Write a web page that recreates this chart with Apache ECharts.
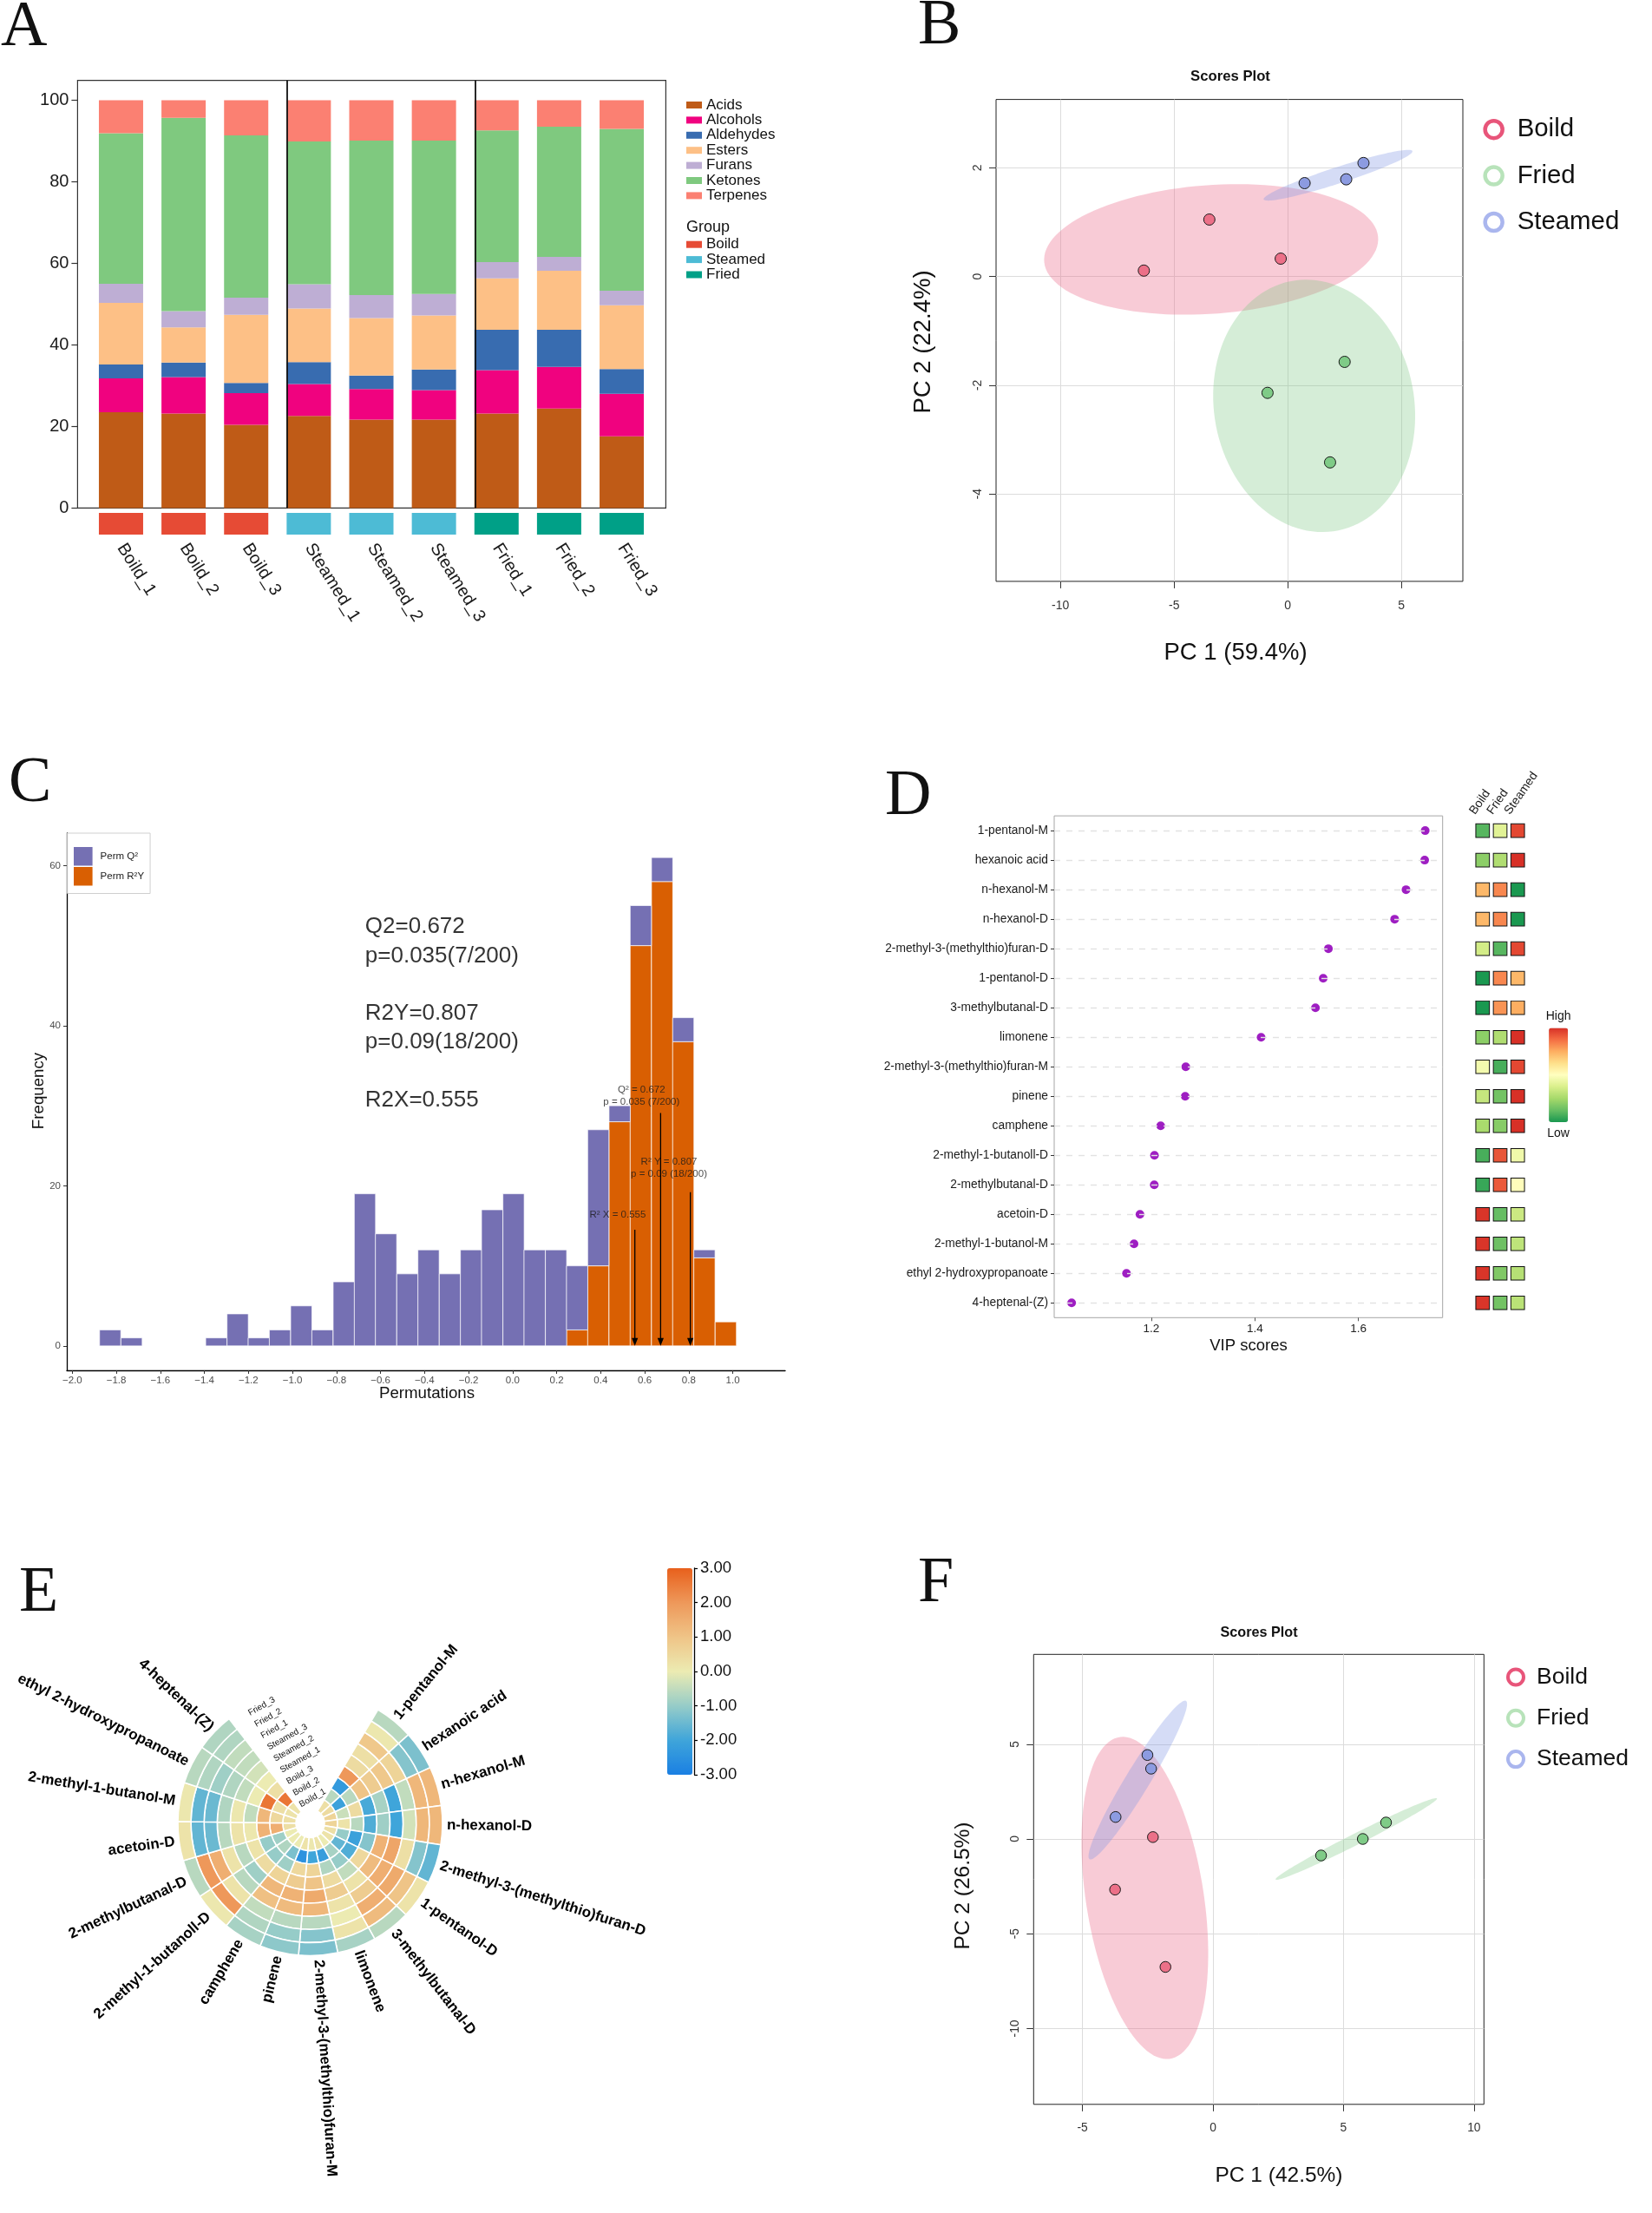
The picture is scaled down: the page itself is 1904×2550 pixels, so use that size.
<!DOCTYPE html>
<html>
<head>
<meta charset="utf-8">
<title>Figure</title>
<script src="https://cdn.jsdelivr.net/npm/echarts/dist/echarts.min.js"></script>
<style>
html,body{margin:0;padding:0;background:#ffffff;}
#chart{width:1904px;height:2550px;}
</style>
</head>
<body>
<div id="chart"></div>
<script>
// ================= DATA =================
// ---- Panel A : relative content (%) of volatile classes ----
const sampleNames = ['Boild_1','Boild_2','Boild_3','Steamed_1','Steamed_2','Steamed_3','Fried_1','Fried_2','Fried_3'];
const sampleGroups = ['Boild','Boild','Boild','Steamed','Steamed','Steamed','Fried','Fried','Fried'];
const groupNames = ['Boild','Steamed','Fried'];
const classNames = ['Acids','Alcohols','Aldehydes','Esters','Furans','Ketones','Terpenes'];
const acids     = [23.5, 23.2, 20.4, 22.6, 21.7, 21.7, 23.2, 24.4, 17.6];
const alcohols  = [ 8.3,  8.9,  7.8,  7.8,  7.5,  7.2, 10.6, 10.2, 10.4];
const aldehydes = [ 3.4,  3.6,  2.5,  5.4,  3.3,  5.1,  9.9,  9.1,  6.1];
const esters    = [15.1,  8.6, 16.7, 13.1, 14.1, 13.2, 12.6, 14.5, 15.6];
const furans    = [ 4.7,  4.0,  4.2,  6.0,  5.6,  5.3,  4.0,  3.4,  3.6];
const ketones   = [36.9, 47.4, 39.8, 35.0, 37.9, 37.6, 32.3, 31.9, 39.7];
const terpenes  = [ 8.1,  4.3,  8.6, 10.1,  9.9,  9.9,  7.4,  6.5,  7.0];
const yTicksA = [0, 20, 40, 60, 80, 100];
const groupBreaksA = [3.645, 6.655];

// ---- Panel B : PCA scores ----
const pcaBBoild   = [[-6.33, 0.11], [-3.45, 1.05], [-0.31, 0.33]];
const pcaBFried   = [[-0.89, -2.14], [2.50, -1.57], [1.86, -3.42]];
const pcaBSteamed = [[0.74, 1.72], [2.57, 1.79], [3.33, 2.09]];
// ellipse: centre x, centre y, semi-axis 1 (dx, dy), semi-axis 2 (dx, dy)
const ellBBoild   = [-3.37, 0.50, 7.34, 0.238, 0.304, -1.178];
const ellBFried   = [1.16, -2.38, -0.145, 2.32, 4.44, -0.11];
const ellBSteamed = [2.21, 1.865, 3.27, 0.446, 0.149, -0.137];
const xTicksB = [-10, -5, 0, 5];
const yTicksB = [-4, -2, 0, 2];

// ---- Panel C : permutation histogram ----
const binCentersC = [-1.828,-1.731,-1.635,-1.539,-1.442,-1.346,-1.249,-1.153,-1.057,-0.960,
                     -0.864,-0.767,-0.671,-0.575,-0.478,-0.382,-0.285,-0.189,-0.093,0.004,
                      0.100, 0.197, 0.293, 0.389, 0.486, 0.582, 0.679, 0.775, 0.871,0.968];
const binWidthC = 0.0964;
const permQ2  = [2,1,0,0,0,1,4,1,2,5,2,8,19,14,9,12,9,12,17,19,12,12,8,17,2,5,3,3,1,0];
const permR2Y = [0,0,0,0,0,0,0,0,0,0,0,0,0,0,0,0,0,0,0,0,0,0,2,10,28,50,58,38,11,3];
const xTicksC = [-2.0,-1.8,-1.6,-1.4,-1.2,-1.0,-0.8,-0.6,-0.4,-0.2,0.0,0.2,0.4,0.6,0.8,1.0];
const yTicksC = [0, 20, 40, 60];
const arrowXC = [0.672, 0.807, 0.555];
const arrowTopC = [29.1, 19.2, 14.5];
const annotPosC = [[0.585, 31.2], [0.71, 22.2], [0.477, 16.4]];
const annotTextC = ['Q\u00B2 = 0.672\np = 0.035 (7/200)', 'R\u00B2 Y = 0.807\np = 0.09 (18/200)', 'R\u00B2 X = 0.555'];
const bigTextPosC = [-0.67, 41.5];
const bigTextC = 'Q2=0.672\np=0.035(7/200)\n\nR2Y=0.807\np=0.09(18/200)\n\nR2X=0.555';

// ---- Panel D : VIP scores + group heatmap ----
const vipNames = ['1-pentanol-M','hexanoic acid','n-hexanol-M','n-hexanol-D','2-methyl-3-(methylthio)furan-D',
  '1-pentanol-D','3-methylbutanal-D','limonene','2-methyl-3-(methylthio)furan-M','pinene','camphene',
  '2-methyl-1-butanoll-D','2-methylbutanal-D','acetoin-D','2-methyl-1-butanol-M','ethyl 2-hydroxypropanoate','4-heptenal-(Z)'];
const vipScores = [1.729, 1.728, 1.692, 1.670, 1.542, 1.532, 1.517, 1.412, 1.2665, 1.2654, 1.218, 1.206, 1.2056, 1.178, 1.1665, 1.152, 1.046];
const xTicksD = [1.2, 1.4, 1.6];
const heatGroups = ['Boild', 'Fried', 'Steamed'];
const heatBoild   = [-0.8,-0.6, 0.45, 0.45,-0.28,-1.0,-1.0,-0.6,-0.08,-0.35,-0.48,-0.85,-0.9, 0.98, 0.98, 0.98, 0.98];
const heatFried   = [-0.2,-0.45,0.65, 0.65,-0.8, 0.65, 0.6,-0.45,-0.85,-0.7,-0.62, 0.85, 0.83,-0.75,-0.72,-0.65,-0.7];
const heatSteamed = [ 0.9, 1.0,-1.0,-1.0, 0.9, 0.45, 0.5, 1.0, 0.9, 1.0, 1.0,-0.1, 0.02,-0.32,-0.38,-0.42,-0.4];

// ---- Panel E : circular heatmap (rows = compounds, columns = samples inner->outer) ----
const circNames = vipNames;
const circGapSlots = ['gap1', 'gap2', 'gap3', 'gap4'];
const circZ = [
  [ 0.3,-0.6,-2.3, 2.0, 0.4, 0.3, 0.9, 0.1,-0.6],
  [ 0.4,-2.1,-0.6, 1.0, 0.8, 0.9, 0.6,-1.2,-1.3],
  [ 0.6,-0.4, 0.4,-1.9,-0.8,-2.0,-0.5, 1.3, 1.3],
  [ 0.6, 0.2,-0.6,-1.8,-0.9,-2.0,-0.3, 1.3, 1.3],
  [ 0.3,-1.0,-2.1,-1.2, 1.4, 1.7, 0.3,-1.2,-1.6],
  [ 0.2,-1.6,-1.8, 0.5, 1.2, 1.5, 1.6, 1.0, 0.2],
  [ 0.0,-0.8,-1.0,-0.5, 0.2, 0.8, 1.5, 1.2,-0.6],
  [ 0.2,-2.2,-0.7, 0.4, 0.8, 0.2, 0.0, 0.2,-0.8],
  [ 0.1,-2.0, 0.6, 1.0, 1.6, 1.3,-0.6,-1.2,-1.3],
  [ 0.2,-2.5, 0.5, 0.8, 1.4, 1.2,-0.6,-1.0,-1.1],
  [ 0.0,-1.3,-0.9, 0.6, 1.3, 1.1,-0.5,-0.7,-0.8],
  [ 0.0,-0.7,-1.0, 0.4,-0.9,-0.6, 0.2, 2.0, 0.1],
  [ 0.0,-0.9,-1.0, 0.2,-0.6, 0.2, 1.5, 2.0,-0.6],
  [ 0.3, 1.5, 1.4, 0.1, 0.2,-0.6,-1.5,-1.6, 0.2],
  [ 0.3, 0.5, 1.3,-0.5, 0.1,-0.7,-1.5,-1.6, 0.1],
  [ 0.2, 0.3, 2.6, 0.0,-0.5,-0.7,-0.9,-0.7,-0.6],
  [ 0.2, 2.6, 0.3, 0.0,-0.3,-0.5,-0.5,-0.7,-0.7]
];

// ---- Panel F : PCA scores ----
const pcaFBoild   = [[-2.30, 0.10], [-3.75, -2.67], [-1.82, -6.75]];
const pcaFFried   = [[4.14, -0.87], [5.74, 0.0], [6.63, 0.87]];
const pcaFSteamed = [[-2.51, 4.43], [-2.37, 3.71], [-3.73, 1.16]];
const ellFBoild   = [-2.61, -3.11, -0.937, 8.49, 2.24, 0.365];
const ellFFried   = [5.49, 0.0, 3.09, 2.14, 0.118, -0.253];
const ellFSteamed = [-2.88, 3.11, 1.84, 4.18, 0.421, -0.273];
const xTicksF = [-5, 0, 5, 10];
const yTicksF = [-10, -5, 0, 5];

// ================= STYLE =================
const FONT = '"Liberation Sans", Arial, Helvetica, sans-serif';
const SERIF = '"Liberation Serif", "Times New Roman", serif';
const classColors = ['#BF5B17', '#F0027F', '#386CB0', '#FDC086', '#BEAED4', '#7FC97F', '#FB8072'];
const groupColors = {Boild: '#E64B35', Steamed: '#4DBBD5', Fried: '#00A087'};
const pcaPoint = {Boild: '#EC7088', Fried: '#7FCB87', Steamed: '#8C9BE1'};
const pcaRing  = {Boild: '#E8557A', Fried: '#B8E3BA', Steamed: '#AAB6EE'};
const pcaFill  = {Boild: 'rgba(236,112,142,0.36)', Fried: 'rgba(128,200,134,0.33)', Steamed: 'rgba(128,148,228,0.33)'};

const chart = echarts.init(document.getElementById('chart'), null, {renderer: 'canvas', width: 1904, height: 2550});

const grids = [], xAxes = [], yAxes = [], series = [], legends = [], gEls = [];

function gtext(text, x, y, size, o) {
  o = o || {};
  const align = o.align || 'center', valign = o.valign || 'middle';
  return {type: 'text', x: x, y: y, rotation: o.rotation || 0, silent: true, z: 100,
    style: {text: text, fill: o.color || '#111', font: (o.weight || 'normal') + ' ' + size + 'px ' + (o.family || FONT),
      textAlign: align, textVerticalAlign: valign, align: align, verticalAlign: valign}};
}

// ================= PANEL A =================
grids.push({left: 103.4, top: 92.7, width: 649.2, height: 492.7});
xAxes.push({gridIndex: 0, type: 'category', data: sampleNames, show: false});
yAxes.push({gridIndex: 0, type: 'value', min: 0, max: 104.85, show: false});
const classValues = [acids, alcohols, aldehydes, esters, furans, ketones, terpenes];
classNames.forEach(function (n, ci) {
  series.push({name: n, type: 'bar', xAxisIndex: 0, yAxisIndex: 0, stack: 'classes', barWidth: 51,
    itemStyle: {color: classColors[ci]}, data: classValues[ci]});
});
grids.push({left: 103.4, top: 591, width: 649.2, height: 25});
xAxes.push({gridIndex: 1, type: 'category', data: sampleNames, axisLine: {show: false}, axisTick: {show: false},
  axisLabel: {interval: 0, rotate: -58, fontSize: 20, margin: 12, color: '#1a1a1a', fontFamily: FONT}});
yAxes.push({gridIndex: 1, type: 'value', min: 0, max: 1, show: false});
groupNames.forEach(function (g) {
  series.push({name: g, type: 'bar', xAxisIndex: 1, yAxisIndex: 1, stack: 'strip', barWidth: 51,
    itemStyle: {color: groupColors[g]},
    data: sampleGroups.map(function (s) { return s === g ? 1 : '-'; })});
});
legends.push({left: 791, top: 112.3, orient: 'vertical', padding: 0, itemWidth: 18, itemHeight: 8, itemGap: 0, selectedMode: false,
  textStyle: {fontFamily: FONT, fontSize: 17, lineHeight: 17.4, color: '#111'},
  data: classNames.map(function (n, i) { return {name: n, icon: 'rect', itemStyle: {color: classColors[i]}}; })});
legends.push({left: 791, top: 273, orient: 'vertical', padding: 0, itemWidth: 18, itemHeight: 8, itemGap: 0, selectedMode: false,
  textStyle: {fontFamily: FONT, fontSize: 17, lineHeight: 17.4, color: '#111'},
  data: groupNames.map(function (n) { return {name: n, icon: 'rect', itemStyle: {color: groupColors[n]}}; })});
gEls.push(gtext('Group', 791, 261.7, 18, {align: 'left'}));
gEls.push(gtext('A', 1, 33, 74, {align: 'left', family: SERIF}));

// ================= helpers for PCA panels =================
function ellipseSeries(name, p, color, ai) {
  return {name: name, type: 'custom', xAxisIndex: ai, yAxisIndex: ai, silent: true, z: 2, data: [p],
    renderItem: function (params, api) {
      const cx = api.value(0), cy = api.value(1), ax = api.value(2), ay = api.value(3), bx = api.value(4), by = api.value(5);
      const pts = [];
      for (let i = 0; i < 120; i++) {
        const t = i / 120 * Math.PI * 2;
        pts.push(api.coord([cx + ax * Math.cos(t) + bx * Math.sin(t), cy + ay * Math.cos(t) + by * Math.sin(t)]));
      }
      return {type: 'polygon', shape: {points: pts}, style: {fill: color}};
    }};
}
function pcaAxes(ai, xr, yr, xt, yt, xi, yi, fs) {
  xAxes.push({gridIndex: ai, type: 'value', min: xr[0], max: xr[1], minInterval: xi, maxInterval: xi,
    axisLine: {show: false, onZero: false},
    axisTick: {show: true, length: 8, lineStyle: {color: '#333'}, customValues: xt},
    axisLabel: {customValues: xt, fontSize: fs, color: '#333', margin: 21, fontFamily: FONT},
    splitLine: {show: true, lineStyle: {color: '#DCDCDC', width: 1}}});
  yAxes.push({gridIndex: ai, type: 'value', min: yr[0], max: yr[1], minInterval: yi, maxInterval: yi,
    axisLine: {show: false, onZero: false},
    axisTick: {show: true, length: 8, lineStyle: {color: '#333'}, customValues: yt},
    axisLabel: {customValues: yt, fontSize: fs, color: '#333', margin: 14, rotate: 90, fontFamily: FONT},
    splitLine: {show: true, lineStyle: {color: '#DCDCDC', width: 1}}});
}
function pcaPoints(name, pts, ai, size) {
  return {name: name, type: 'scatter', xAxisIndex: ai, yAxisIndex: ai, z: 4, symbol: 'circle', symbolSize: size,
    itemStyle: {color: pcaPoint[name], borderColor: '#1a1a1a', borderWidth: 1, opacity: 1}, data: pts};
}
function pcaLegend(left, top, iw, bw, gap, fs, pad) {
  return {left: left, top: top, orient: 'vertical', padding: 0, itemWidth: iw, itemHeight: iw, itemGap: gap, selectedMode: false,
    textStyle: {fontFamily: FONT, fontSize: fs, lineHeight: fs, color: '#111', padding: [0, 0, 0, pad]},
    data: ['Boild', 'Fried', 'Steamed'].map(function (n) {
      return {name: n, icon: 'circle', itemStyle: {color: '#ffffff', borderColor: pcaRing[n], borderWidth: bw}};
    })};
}

// ================= PANEL B =================
grids.push({left: 1148, top: 114.6, width: 538, height: 555.3, show: true, borderColor: '#222', borderWidth: 1, backgroundColor: 'transparent'});
pcaAxes(2, [-12.83, 7.70], [-5.61, 3.26], xTicksB, yTicksB, 5, 2, 14);
series.push(ellipseSeries('ellB-Boild', ellBBoild, pcaFill.Boild, 2));
series.push(ellipseSeries('ellB-Fried', ellBFried, pcaFill.Fried, 2));
series.push(ellipseSeries('ellB-Steamed', ellBSteamed, pcaFill.Steamed, 2));
series.push(pcaPoints('Boild', pcaBBoild, 2, 13));
series.push(pcaPoints('Fried', pcaBFried, 2, 13));
series.push(pcaPoints('Steamed', pcaBSteamed, 2, 13));
legends.push(pcaLegend(1709.4, 134.5, 20, 4.5, 24, 29.4, 12));
gEls.push(gtext('Scores Plot', 1418, 88, 16.7, {weight: 'bold'}));
gEls.push(gtext('PC 1 (59.4%)', 1424, 752.4, 27.5));
gEls.push(gtext('PC 2 (22.4%)', 1064, 394, 27.5, {rotation: Math.PI / 2}));
gEls.push(gtext('B', 1058, 31, 74, {align: 'left', family: SERIF}));

// ================= PANEL C =================
grids.push({left: 77, top: 960, width: 828, height: 619});
xAxes.push({gridIndex: 3, type: 'value', min: -2.025, max: 1.238, minInterval: 0.2, maxInterval: 0.2,
  axisLine: {show: true, onZero: false, lineStyle: {color: '#000', width: 1.3}},
  axisTick: {show: true, length: 4, lineStyle: {color: '#333'}, customValues: xTicksC},
  axisLabel: {customValues: xTicksC, fontSize: 11.5, color: '#4D4D4D', margin: 6, fontFamily: FONT,
    formatter: function (v) { return (v < -1e-9 ? '\u2212' : '') + Math.abs(v).toFixed(1); }},
  splitLine: {show: false}});
yAxes.push({gridIndex: 3, type: 'value', min: -3.05, max: 64.05, minInterval: 20, maxInterval: 20,
  axisLine: {show: true, onZero: false, lineStyle: {color: '#000', width: 1.3}},
  axisTick: {show: true, length: 4, lineStyle: {color: '#333'}, customValues: yTicksC},
  axisLabel: {customValues: yTicksC, fontSize: 11.5, color: '#4D4D4D', margin: 7, fontFamily: FONT},
  splitLine: {show: false}});
function histSeries(name, color, rows) {
  return {name: name, type: 'custom', xAxisIndex: 3, yAxisIndex: 3, z: 2, data: rows,
    itemStyle: {color: color},
    renderItem: function (params, api) {
      const c = api.value(0), y0 = api.value(1), y1 = api.value(2);
      const a = api.coord([c - binWidthC / 2, y1]), b = api.coord([c + binWidthC / 2, y0]);
      return {type: 'rect', shape: {x: a[0], y: a[1], width: b[0] - a[0], height: b[1] - a[1]},
        style: {fill: color, stroke: 'rgba(255,255,255,0.85)', lineWidth: 0.8}};
    }};
}
const rowsR2Y = [], rowsQ2 = [];
binCentersC.forEach(function (c, i) {
  if (permR2Y[i] > 0) rowsR2Y.push([c, 0, permR2Y[i]]);
  if (permQ2[i] > 0) rowsQ2.push([c, permR2Y[i], permR2Y[i] + permQ2[i]]);
});
series.push(histSeries('Perm R\u00B2Y', '#D95F02', rowsR2Y));
series.push(histSeries('Perm Q\u00B2', '#7570B3', rowsQ2));
// arrows (value -> 0)
series.push({name: 'arrowsC', type: 'custom', xAxisIndex: 3, yAxisIndex: 3, z: 6, silent: true,
  data: arrowXC.map(function (x, i) { return [x, arrowTopC[i]]; }),
  renderItem: function (params, api) {
    const p0 = api.coord([api.value(0), api.value(1)]);
    const p1 = api.coord([api.value(0), 0]);
    const hl = 9, hw = 3.6;
    return {type: 'group', children: [
      {type: 'line', shape: {x1: p0[0], y1: p0[1], x2: p1[0], y2: p1[1] - hl + 1}, style: {stroke: '#000', lineWidth: 1.3}},
      {type: 'polygon', shape: {points: [[p1[0], p1[1]], [p1[0] - hw, p1[1] - hl], [p1[0] + hw, p1[1] - hl]]}, style: {fill: '#000'}}
    ]};
  }});
series.push({name: 'annotC', type: 'scatter', xAxisIndex: 3, yAxisIndex: 3, z: 5, symbolSize: 1, silent: true,
  itemStyle: {color: 'rgba(0,0,0,0)'},
  label: {show: true, position: 'inside', color: '#1a1a1a', fontSize: 11.5, lineHeight: 14.5, fontFamily: FONT, align: 'center'},
  data: annotPosC.map(function (p, i) { return {value: p, label: {formatter: annotTextC[i]}}; })});
series.push({name: 'bigTextC', type: 'scatter', xAxisIndex: 3, yAxisIndex: 3, z: 5, symbolSize: 1, silent: true,
  itemStyle: {color: 'rgba(0,0,0,0)'},
  label: {show: true, position: 'inside', align: 'left', verticalAlign: 'middle', color: '#000', fontSize: 26, lineHeight: 33.3, fontFamily: FONT,
    formatter: bigTextC},
  data: [bigTextPosC]});
legends.push({left: 77.7, top: 960, orient: 'vertical', padding: [16, 7, 9, 7.3], borderColor: '#CFCFCF', borderWidth: 1,
  backgroundColor: '#ffffff', itemWidth: 21.6, itemHeight: 21.5, itemGap: 1.5, selectedMode: false,
  textStyle: {fontFamily: FONT, fontSize: 11.5, color: '#1a1a1a', padding: [0, 0, 0, 4]},
  data: [{name: 'Perm Q\u00B2', icon: 'rect', itemStyle: {color: '#7570B3'}}, {name: 'Perm R\u00B2Y', icon: 'rect', itemStyle: {color: '#D95F02'}}]});
gEls.push(gtext('Permutations', 492, 1606, 18.7));
gEls.push(gtext('Frequency', 45, 1257, 18.7, {rotation: Math.PI / 2}));
gEls.push(gtext('C', 10, 904, 74, {align: 'left', family: SERIF}));

// ================= PANEL D =================
grids.push({left: 1215, top: 940.1, width: 447.7, height: 578.2, show: true, borderColor: '#A6A6A6', borderWidth: 1, backgroundColor: 'transparent'});
xAxes.push({gridIndex: 4, type: 'value', min: 1.0123, max: 1.7627,
  axisLine: {show: false, onZero: false},
  axisTick: {show: true, length: 4, lineStyle: {color: '#555'}, customValues: xTicksD},
  axisLabel: {customValues: xTicksD, fontSize: 13.5, color: '#222', margin: 6, fontFamily: FONT},
  splitLine: {show: false}});
yAxes.push({gridIndex: 4, type: 'category', data: vipNames, inverse: true,
  axisLine: {show: false},
  axisTick: {show: true, alignWithLabel: true, interval: 0, length: 4, lineStyle: {color: '#333'}},
  axisLabel: {interval: 0, fontSize: 13.8, color: '#1a1a1a', margin: 7, fontFamily: FONT},
  splitLine: {show: false}});
series.push({name: 'vipGrid', type: 'scatter', xAxisIndex: 4, yAxisIndex: 4, data: [], z: 1, silent: true,
  markLine: {silent: true, animation: false, symbol: 'none', label: {show: false},
    lineStyle: {color: '#E2E2E2', width: 1.4, type: [7, 7]},
    data: vipNames.map(function (n, i) { return {yAxis: i}; })}});
series.push({name: 'vip', type: 'scatter', xAxisIndex: 4, yAxisIndex: 4, z: 4, symbolSize: 10,
  itemStyle: {color: '#9E1EC2', opacity: 1},
  data: vipScores.map(function (v, i) { return [v, i]; })});
grids.push({left: 1698.7, top: 940.1, width: 60.6, height: 578.2});
xAxes.push({gridIndex: 5, type: 'category', data: heatGroups, show: false});
yAxes.push({gridIndex: 5, type: 'category', data: vipNames, inverse: true, show: false});
const heatCols = [heatBoild, heatFried, heatSteamed];
const heatData = [];
vipNames.forEach(function (n, i) { heatCols.forEach(function (col, j) { heatData.push([j, i, col[i]]); }); });
const idxHeat = series.length;
series.push({name: 'heatD', type: 'scatter', xAxisIndex: 5, yAxisIndex: 5, symbol: 'rect', symbolSize: [15.7, 15.6],
  itemStyle: {borderColor: '#111', borderWidth: 1, opacity: 1}, data: heatData});
series.push({name: 'heatHeaders', type: 'custom', xAxisIndex: 5, yAxisIndex: 5, silent: true,
  data: heatGroups.map(function (g, j) { return [j, 0]; }),
  renderItem: function (params, api) {
    const j = api.value(0);
    const c = api.coord([j, 0]);
    const sz = api.size([1, 1]);
    return {type: 'text', x: c[0] - 12, y: c[1] - sz[1] / 2 - 3, rotation: 55 * Math.PI / 180,
      style: {text: heatGroups[j], fill: '#1a1a1a', font: '14px ' + FONT, textAlign: 'left', align: 'left',
        textVerticalAlign: 'middle', verticalAlign: 'middle'}};
  }});
gEls.push(gtext('VIP scores', 1439, 1551, 18.5));
gEls.push(gtext('D', 1020, 919, 74, {align: 'left', family: SERIF}));

// ================= PANEL E =================
const circCats = circNames.concat(circGapSlots);
const cellData = [];
circZ.forEach(function (row, k) { row.forEach(function (v, i) { cellData.push([i, k, v]); }); });
const idxCirc = series.length;
series.push({name: 'circE', type: 'custom', coordinateSystem: 'polar', polarIndex: 0, data: cellData,
  encode: {radius: 0, angle: 1},
  renderItem: function (params, api) {
    const c = api.coord([api.value(0), api.value(1)]);
    const sz = api.size([1, 1], [api.value(0), api.value(1)]);
    const cs = params.coordSys;
    return {type: 'sector',
      shape: {cx: cs.cx, cy: cs.cy, r0: c[2] - sz[0] / 2, r: c[2] + sz[0] / 2,
        startAngle: -c[3] - sz[1] / 2, endAngle: -c[3] + sz[1] / 2, clockwise: true},
      style: {fill: api.visual('color'), stroke: '#ffffff', lineWidth: 1.6}};
  }});
series.push({name: 'circLabels', type: 'custom', coordinateSystem: 'polar', polarIndex: 0, silent: true,
  data: circNames.map(function (n, k) { return [0, k]; }), encode: {radius: 0, angle: 1},
  renderItem: function (params, api) {
    const k = api.value(1);
    const c = api.coord([0, k]);
    const cs = params.coordSys;
    const phi = c[3], R = cs.r + 5;
    const right = Math.cos(phi) > -1e-6;
    const al = right ? 'left' : 'right';
    return {type: 'text', x: cs.cx + R * Math.cos(phi), y: cs.cy - R * Math.sin(phi),
      rotation: right ? phi : phi - Math.PI,
      style: {text: circNames[k], fill: '#000', font: 'bold 17px ' + FONT, textAlign: al, align: al,
        textVerticalAlign: 'middle', verticalAlign: 'middle'}};
  }});
series.push({name: 'circSamples', type: 'custom', coordinateSystem: 'polar', polarIndex: 0, silent: true,
  data: sampleNames.map(function (s, i) { return [i, circNames.length]; }), encode: {radius: 0, angle: 1},
  renderItem: function (params, api) {
    const i = api.value(0);
    const c = api.coord([i, api.value(1)]);
    return {type: 'text', x: c[0], y: c[1], rotation: c[3] - Math.PI / 2,
      style: {text: sampleNames[i], fill: '#111', font: '10px ' + FONT, textAlign: 'left', align: 'left',
        textVerticalAlign: 'middle', verticalAlign: 'middle'}};
  }});
grids.push({left: 799, top: 1807, width: 1, height: 238});
xAxes.push({gridIndex: 6, type: 'value', show: false});
yAxes.push({gridIndex: 6, type: 'value', position: 'right', min: -3, max: 3, interval: 1,
  axisLine: {show: true, onZero: false, lineStyle: {color: '#000', width: 1.3}},
  axisTick: {show: true, length: 4, lineStyle: {color: '#000', width: 1.2}},
  axisLabel: {fontSize: 18.5, color: '#111', margin: 7, fontFamily: FONT, formatter: function (v) { return v.toFixed(2); }},
  splitLine: {show: false}});
gEls.push(gtext('E', 22, 1836.5, 74, {align: 'left', family: SERIF}));

// ================= PANEL F =================
grids.push({left: 1191.3, top: 1906.3, width: 519, height: 518.5, show: true, borderColor: '#222', borderWidth: 1, backgroundColor: 'transparent'});
pcaAxes(7, [-6.87, 10.38], [-14.0, 9.74], xTicksF, yTicksF, 5, 5, 13.8);
xAxes[7].axisLabel.margin = 20;
series.push(ellipseSeries('ellF-Boild', ellFBoild, pcaFill.Boild, 7));
series.push(ellipseSeries('ellF-Fried', ellFFried, pcaFill.Fried, 7));
series.push(ellipseSeries('ellF-Steamed', ellFSteamed, pcaFill.Steamed, 7));
series.push(pcaPoints('Boild', pcaFBoild, 7, 12.5));
series.push(pcaPoints('Fried', pcaFFried, 7, 12.5));
series.push(pcaPoints('Steamed', pcaFSteamed, 7, 12.5));
legends.push(pcaLegend(1736, 1919, 18, 4, 20.3, 26.5, 10));
gEls.push(gtext('Scores Plot', 1451, 1882, 16.2, {weight: 'bold'}));
gEls.push(gtext('PC 1 (42.5%)', 1474, 2507, 24.5));
gEls.push(gtext('PC 2 (26.5%)', 1110, 2173, 24.5, {rotation: Math.PI / 2}));
gEls.push(gtext('F', 1058, 1826, 74, {align: 'left', family: SERIF}));

// ================= PANEL A frame (grid 8) =================
grids.push({left: 89.4, top: 92.7, width: 678, height: 492.7, show: true, borderColor: '#333', borderWidth: 1.2, backgroundColor: 'transparent'});
xAxes.push({gridIndex: 8, type: 'value', min: 0.3, max: 9.7, show: false});
yAxes.push({gridIndex: 8, type: 'value', min: 0, max: 104.85,
  axisLine: {show: false, onZero: false},
  axisTick: {show: true, length: 7, lineStyle: {color: '#333', width: 1.2}, customValues: yTicksA},
  axisLabel: {customValues: yTicksA, fontSize: 20, color: '#1a1a1a', margin: 10, fontFamily: FONT},
  splitLine: {show: false}});
series.push({name: 'breaksA', type: 'scatter', xAxisIndex: 8, yAxisIndex: 8, data: [], silent: true, z: 5,
  markLine: {silent: true, symbol: 'none', label: {show: false}, animation: false,
    lineStyle: {color: '#111', width: 1.8, type: 'solid'},
    data: groupBreaksA.map(function (b) { return {xAxis: b}; })}});

// ================= OPTION =================
const option = {
  animation: false,
  backgroundColor: '#ffffff',
  textStyle: {fontFamily: FONT},
  grid: grids, xAxis: xAxes, yAxis: yAxes,
  polar: {center: [357.5, 2101], radius: [16.5, 152.5]},
  angleAxis: {polarIndex: 0, type: 'category', data: circCats, startAngle: 59.2, clockwise: true, boundaryGap: true,
    axisLine: {show: false}, axisTick: {show: false}, axisLabel: {show: false}, splitLine: {show: false}, splitArea: {show: false}},
  radiusAxis: {polarIndex: 0, type: 'category', data: sampleNames,
    axisLine: {show: false}, axisTick: {show: false}, axisLabel: {show: false}, splitLine: {show: false}, splitArea: {show: false}},
  legend: legends,
  visualMap: [
    {type: 'continuous', seriesIndex: idxHeat, dimension: 2, min: -1, max: 1, orient: 'vertical',
      left: 1781.7, top: 1164.4, itemWidth: 22, itemHeight: 108.5, padding: 0, calculable: false, hoverLink: false,
      text: ['High', 'Low'], textGap: 6, textStyle: {fontSize: 14, color: '#111', fontFamily: FONT},
      inRange: {color: ['#1A9850', '#66BD63', '#A6D96A', '#D9EF8B', '#FFFFBF', '#FEE08B', '#FDAE61', '#F46D43', '#D73027']}},
    {type: 'continuous', seriesIndex: idxCirc, dimension: 2, min: -3, max: 3, orient: 'vertical',
      left: 769, top: 1807, itemWidth: 29, itemHeight: 238, padding: 0, calculable: false, hoverLink: false,
      inRange: {color: ['#1A7FE3', '#3FA5DA', '#96CCC8', '#ECEBB2', '#EFC487', '#EE985A', '#E8601C']}}
  ],
  graphic: {elements: gEls},
  series: series
};
chart.setOption(option);
</script>
</body>
</html>
